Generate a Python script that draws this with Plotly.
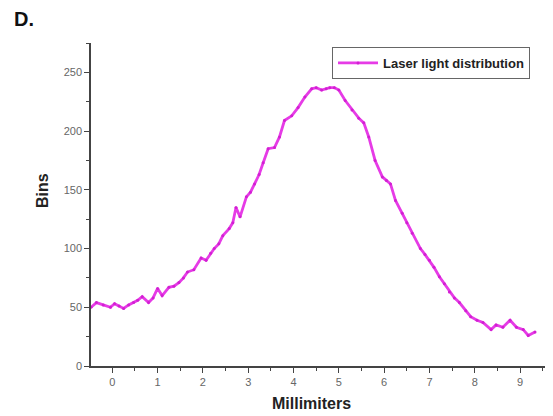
import plotly.graph_objects as go

# Data
mm = [-0.47, -0.35, -0.2, -0.04, 0.05, 0.15, 0.25, 0.36, 0.47, 0.56, 0.66, 0.8, 0.9, 1.0, 1.1,
      1.25, 1.36, 1.47, 1.57, 1.66, 1.8, 1.96, 2.07, 2.17, 2.25, 2.35, 2.44, 2.58, 2.66, 2.73, 2.82,
      2.96, 3.05, 3.14, 3.24, 3.33, 3.44, 3.58, 3.69, 3.8, 3.96, 4.1, 4.25, 4.4, 4.5, 4.62, 4.72,
      4.8, 4.9, 5.0, 5.14, 5.29, 5.44, 5.55, 5.66, 5.8, 5.96, 6.05, 6.14, 6.25, 6.4, 6.5, 6.62,
      6.8, 6.9, 7.0, 7.1, 7.22, 7.33, 7.44, 7.55, 7.66, 7.8, 7.91, 8.05, 8.18, 8.36, 8.47, 8.62,
      8.78, 8.92, 9.07, 9.18, 9.33]
bins = [50, 54, 52, 50, 53, 51, 49, 52, 54, 56, 59, 54, 58, 66, 60,
        67, 68, 71, 75, 80, 82, 92, 90, 96, 100, 104, 111, 117, 122, 135, 127,
        144, 148, 155, 163, 173, 185, 186, 195, 209, 213, 220, 229, 236, 237, 235, 236,
        237, 237, 235, 226, 218, 211, 207, 195, 175, 161, 158, 155, 141, 130, 122, 113,
        100, 95, 90, 84, 76, 70, 63, 58, 54, 47, 42, 39, 37, 31, 35, 33,
        39, 33, 31, 26, 29]

series_name = "Laser light distribution"
x_title = "Millimiters"
y_title = "Bins"
panel_label = "D."

FONT = "Liberation Sans, Arial, sans-serif"
COLOR = "#e63be6"

fig = go.Figure()
fig.add_trace(go.Scatter(
    x=mm, y=bins, mode="lines+markers", name=series_name,
    line=dict(color=COLOR, width=2.8),
    marker=dict(size=3, color="#d21fd2"),
))

fig.update_layout(
    width=553, height=416,
    margin=dict(l=91, r=8, t=43, b=50),
    paper_bgcolor="white", plot_bgcolor="white",
    font=dict(family=FONT, color="#444"),
    showlegend=True,
    legend=dict(
        x=(332 - 91) / 454, y=(366 - 47) / 323, xanchor="left", yanchor="top",
        bordercolor="#666", borderwidth=1, bgcolor="white",
        font=dict(family=FONT, size=13, color="#222", weight="bold"),
        itemwidth=40, tracegroupgap=0,
    ),
    xaxis=dict(
        range=[-0.47, 9.55], tick0=0, dtick=1, showgrid=False, zeroline=False,
        showline=True, linecolor="#444", linewidth=1.5,
        ticks="outside", ticklen=5, tickcolor="#444",
        tickfont=dict(size=11, color="#666"),
        minor=dict(dtick=0.5, ticks="outside", ticklen=3, tickcolor="#444"),
    ),
    yaxis=dict(
        range=[0, 275], tick0=0, dtick=50, showgrid=False, zeroline=False,
        showline=True, linecolor="#444", linewidth=1.5,
        ticks="outside", ticklen=5, tickcolor="#444",
        tickfont=dict(size=11, color="#666"),
        minor=dict(dtick=25, ticks="outside", ticklen=3, tickcolor="#444"),
    ),
    annotations=[
        dict(text="<b>" + panel_label + "</b>", x=(24 - 91) / 454, y=(366 - 19) / 323,
             xref="paper", yref="paper", xanchor="center", yanchor="middle",
             showarrow=False, font=dict(size=20, color="#111", family=FONT)),
        dict(text="<b>" + x_title + "</b>", x=(311 - 91) / 454, y=(366 - 403) / 323,
             xref="paper", yref="paper", xanchor="center", yanchor="middle",
             showarrow=False, font=dict(size=16, color="#222", family=FONT)),
        dict(text="<b>" + y_title + "</b>", x=(42 - 91) / 454, y=(366 - 191) / 323,
             xref="paper", yref="paper", xanchor="center", yanchor="middle",
             showarrow=False, textangle=-90, font=dict(size=16, color="#222", family=FONT)),
    ],
)
fig.write_html("out.html")
